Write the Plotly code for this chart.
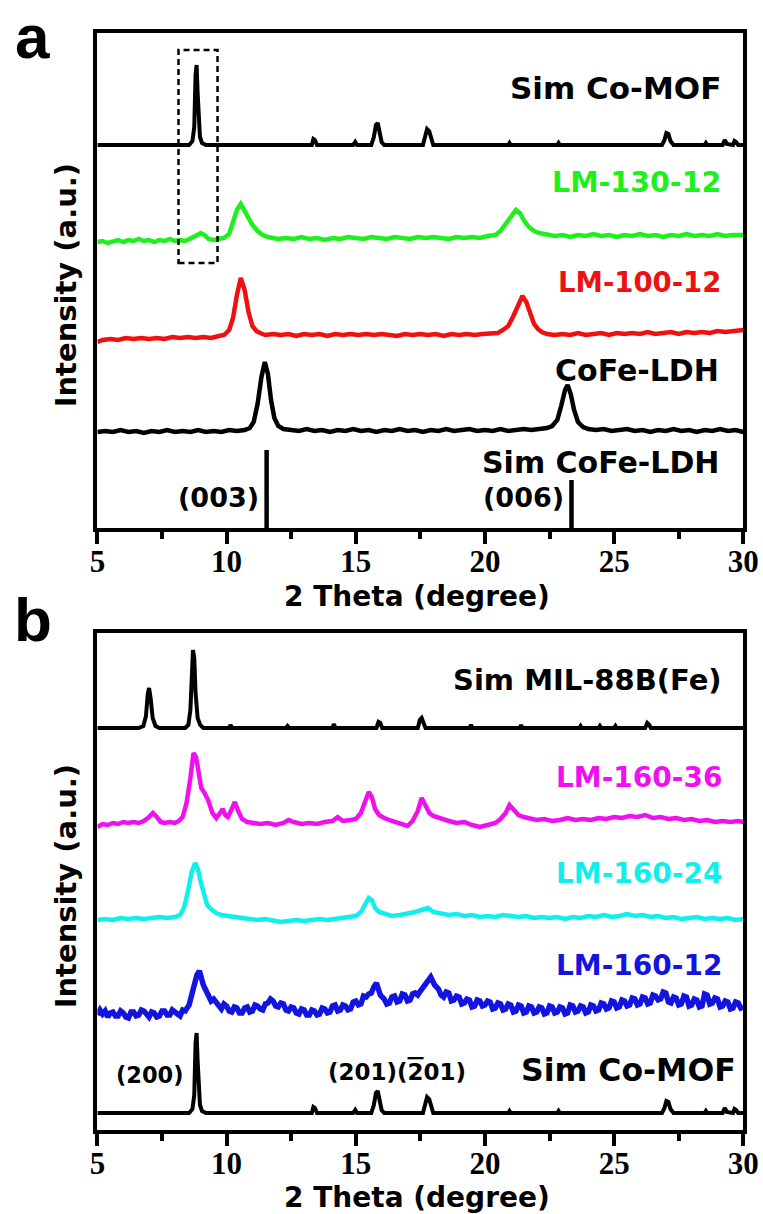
import plotly.graph_objects as go

# ---------------- data: (2-theta in degree, intensity above the pattern's baseline) ----------------

# simulated Co-MOF pattern (drawn in both panels)
sim_comof = [
    (5.0, 0), (7.0, 0), (8.55, 0), (8.68, 4), (8.75, 18), (8.8, 70), (8.84, 80), (8.88, 52),
    (8.92, 24), (8.97, 8), (9.05, 2), (9.2, 0), (13.3, 0), (13.36, 6), (13.42, 5), (13.5, 0),
    (14.9, 0), (14.98, 3), (15.05, 0), (15.6, 0), (15.7, 8), (15.78, 20), (15.85, 22),
    (15.92, 12), (16.0, 3), (16.1, 0), (17.6, 0), (17.68, 8), (17.76, 16), (17.84, 14),
    (17.92, 5), (18.0, 0), (20.9, 0), (20.95, 2), (21.0, 0), (22.8, 0), (22.85, 2), (22.9, 0),
    (26.85, 0), (26.95, 5), (27.02, 12), (27.1, 11), (27.18, 4), (27.3, 0), (28.5, 0),
    (28.55, 2), (28.6, 0), (29.2, 0), (29.28, 5), (29.36, 1), (29.6, 0), (29.66, 4),
    (29.72, 3), (29.8, 0), (30.0, 0),
]

lm_130_12 = [
    (5.0, 0), (5.2, 1), (5.4, -1), (5.6, 1), (5.8, 2), (6.0, 0), (6.2, 2), (6.4, 1), (6.6, 3),
    (6.8, 1), (7.0, 2), (7.2, 0), (7.4, 2), (7.6, 1), (7.8, 3), (8.0, 1), (8.2, 2), (8.4, 1),
    (8.6, 3), (8.8, 6), (9.0, 9), (9.15, 7), (9.3, 3), (9.5, 2), (9.7, 3), (9.9, 4), (10.1, 8),
    (10.25, 20), (10.4, 32), (10.55, 38), (10.7, 31), (10.85, 23), (11.0, 17), (11.2, 11),
    (11.4, 7), (11.6, 5), (11.8, 4), (12.0, 3), (12.3, 4), (12.6, 3), (12.9, 5), (13.2, 3),
    (13.5, 4), (13.8, 2), (14.1, 4), (14.4, 3), (14.7, 5), (15.0, 4), (15.3, 3), (15.6, 5),
    (15.9, 4), (16.2, 3), (16.5, 5), (16.8, 4), (17.1, 3), (17.4, 5), (17.7, 4), (18.0, 5),
    (18.3, 4), (18.6, 3), (18.9, 5), (19.2, 4), (19.5, 5), (19.8, 4), (20.1, 6), (20.4, 7),
    (20.6, 11), (20.8, 18), (21.0, 26), (21.2, 32), (21.35, 29), (21.5, 22), (21.7, 15),
    (21.9, 11), (22.1, 9), (22.4, 8), (22.7, 6), (23.0, 7), (23.3, 5), (23.6, 7), (23.9, 6),
    (24.2, 8), (24.5, 6), (24.8, 7), (25.1, 5), (25.4, 7), (25.7, 6), (26.0, 8), (26.3, 6),
    (26.6, 7), (26.9, 5), (27.2, 7), (27.5, 6), (27.8, 8), (28.1, 6), (28.4, 7), (28.7, 6),
    (29.0, 8), (29.3, 6), (29.6, 7), (30.0, 7),
]

lm_100_12 = [
    (5.0, -2), (5.2, 0), (5.5, 1), (5.8, 0), (6.1, 2), (6.4, 1), (6.7, 2), (7.0, 1), (7.3, 2),
    (7.6, 1), (7.9, 3), (8.2, 2), (8.5, 3), (8.8, 2), (9.1, 3), (9.4, 2), (9.7, 4), (9.9, 5),
    (10.1, 10), (10.25, 22), (10.4, 45), (10.55, 62), (10.7, 50), (10.85, 28), (11.0, 14),
    (11.15, 9), (11.3, 7), (11.5, 5), (11.8, 6), (12.1, 5), (12.4, 6), (12.7, 4), (13.0, 6),
    (13.3, 5), (13.6, 6), (13.9, 4), (14.2, 6), (14.5, 5), (14.8, 6), (15.1, 5), (15.4, 6),
    (15.7, 5), (16.0, 6), (16.3, 5), (16.6, 4), (16.9, 6), (17.2, 5), (17.5, 6), (17.8, 5),
    (18.1, 6), (18.4, 4), (18.7, 6), (19.0, 5), (19.3, 6), (19.6, 5), (19.9, 6), (20.2, 6),
    (20.5, 7), (20.7, 10), (20.9, 14), (21.1, 24), (21.3, 36), (21.45, 44), (21.6, 38),
    (21.75, 26), (21.9, 16), (22.05, 11), (22.2, 8), (22.4, 6), (22.7, 5), (23.0, 6), (23.3, 5),
    (23.6, 7), (23.9, 5), (24.2, 6), (24.5, 7), (24.8, 5), (25.1, 7), (25.4, 6), (25.7, 7),
    (26.0, 6), (26.3, 8), (26.6, 6), (26.9, 7), (27.2, 8), (27.5, 6), (27.8, 8), (28.1, 7),
    (28.4, 8), (28.7, 7), (29.0, 9), (29.3, 8), (29.6, 9), (30.0, 10),
]

cofe_ldh = [
    (5.0, 0), (5.3, 1), (5.6, 0), (5.9, 2), (6.2, 0), (6.5, 1), (6.8, -1), (7.1, 1), (7.4, 0),
    (7.7, 2), (8.0, 0), (8.3, 1), (8.6, 0), (8.9, 2), (9.2, 0), (9.5, 1), (9.8, 0), (10.1, 2),
    (10.4, 1), (10.7, 2), (10.9, 4), (11.05, 10), (11.2, 28), (11.35, 55), (11.48, 70),
    (11.6, 58), (11.72, 32), (11.85, 14), (12.0, 6), (12.2, 3), (12.5, 2), (12.8, 1), (13.1, 3),
    (13.4, 1), (13.7, 2), (14.0, 0), (14.3, 2), (14.6, 1), (14.9, 3), (15.2, 1), (15.5, 2),
    (15.8, 0), (16.1, 2), (16.4, 1), (16.7, 3), (17.0, 1), (17.3, 2), (17.6, 0), (17.9, 2),
    (18.2, 1), (18.5, 3), (18.8, 1), (19.1, 2), (19.4, 3), (19.7, 1), (20.0, 2), (20.3, 1),
    (20.6, 3), (20.9, 1), (21.2, 2), (21.5, 3), (21.8, 2), (22.1, 3), (22.4, 4), (22.6, 6),
    (22.8, 12), (22.95, 26), (23.1, 42), (23.2, 47), (23.32, 38), (23.45, 22), (23.6, 10),
    (23.8, 5), (24.0, 3), (24.3, 2), (24.6, 3), (24.9, 1), (25.2, 2), (25.5, 3), (25.8, 1),
    (26.1, 2), (26.4, 0), (26.7, 2), (27.0, 1), (27.3, 3), (27.6, 1), (27.9, 2), (28.2, 0),
    (28.5, 2), (28.8, 1), (29.1, 3), (29.4, 1), (29.7, 2), (30.0, 0),
]

# simulated CoFe-LDH reflections (003) and (006)
sim_cofe_pos = [11.55, 23.35]
sim_cofe_height = [78, 48]

sim_mil88b = [
    (5.0, 0), (6.6, 0), (6.78, 2), (6.88, 12), (6.95, 34), (7.0, 40), (7.06, 30), (7.14, 10),
    (7.25, 2), (7.4, 0), (8.4, 0), (8.52, 3), (8.6, 18), (8.66, 62), (8.7, 78), (8.75, 70),
    (8.8, 35), (8.88, 10), (8.98, 3), (9.1, 0), (10.1, 0), (10.15, 3), (10.22, 0), (12.3, 0),
    (12.36, 2), (12.42, 0), (14.1, 0), (14.15, 4), (14.22, 0), (15.8, 0), (15.88, 6), (15.95, 5),
    (16.02, 0), (17.4, 0), (17.48, 8), (17.55, 10), (17.62, 4), (17.7, 0), (19.4, 0), (19.46, 3),
    (19.52, 0), (21.35, 0), (21.4, 3), (21.45, 0), (23.65, 0), (23.7, 2), (23.75, 0), (24.4, 0),
    (24.45, 2), (24.5, 0), (25.0, 0), (25.05, 2), (25.1, 0), (26.2, 0), (26.28, 5), (26.36, 3),
    (26.42, 0), (30.0, 0),
]

lm_160_36 = [
    (5.0, -4), (5.2, -1), (5.4, -2), (5.6, 0), (5.8, -1), (6.0, 1), (6.2, 0), (6.4, 1), (6.6, 0),
    (6.8, 2), (7.0, 6), (7.15, 10), (7.3, 6), (7.45, 1), (7.6, 0), (7.8, 1), (8.0, 0), (8.15, 2),
    (8.3, 6), (8.45, 20), (8.6, 45), (8.72, 70), (8.82, 66), (8.92, 50), (9.02, 35), (9.15, 30),
    (9.3, 22), (9.45, 10), (9.6, 5), (9.75, 10), (9.85, 14), (9.95, 8), (10.05, 6), (10.2, 14),
    (10.32, 21), (10.45, 12), (10.6, 4), (10.8, 1), (11.0, 0), (11.3, -1), (11.6, 0), (11.9, -2),
    (12.2, 0), (12.4, 3), (12.6, 1), (12.9, -1), (13.2, 0), (13.5, -1), (13.8, 1), (14.1, 2),
    (14.3, 6), (14.5, 2), (14.8, 3), (15.0, 4), (15.2, 10), (15.35, 20), (15.5, 31), (15.62, 26),
    (15.75, 14), (15.9, 8), (16.1, 5), (16.4, 2), (16.7, 0), (17.0, -3), (17.2, 2), (17.4, 12),
    (17.55, 25), (17.7, 18), (17.85, 10), (18.0, 7), (18.3, 4), (18.6, 2), (18.9, 0), (19.2, 1),
    (19.5, -2), (19.8, -4), (20.1, -2), (20.4, 0), (20.6, 4), (20.8, 10), (20.95, 18), (21.1, 14),
    (21.3, 8), (21.5, 6), (21.7, 5), (22.0, 3), (22.3, 4), (22.6, 2), (22.9, 3), (23.2, 5),
    (23.5, 3), (23.8, 4), (24.1, 3), (24.4, 5), (24.7, 4), (25.0, 6), (25.3, 5), (25.6, 7),
    (25.9, 6), (26.2, 8), (26.5, 5), (26.8, 6), (27.1, 4), (27.4, 5), (27.7, 3), (28.0, 4),
    (28.3, 2), (28.6, 3), (28.9, 1), (29.2, 2), (29.5, 1), (29.8, 2), (30.0, 1),
]

lm_160_24 = [
    (5.0, 0), (5.3, 1), (5.6, 0), (5.9, 2), (6.2, 1), (6.5, 2), (6.8, 1), (7.1, 2), (7.4, 3),
    (7.7, 2), (8.0, 3), (8.2, 5), (8.35, 12), (8.5, 28), (8.65, 48), (8.78, 57), (8.9, 50),
    (9.0, 38), (9.12, 25), (9.25, 15), (9.4, 11), (9.6, 7), (9.8, 5), (10.0, 4), (10.3, 3),
    (10.6, 2), (10.9, 1), (11.2, 0), (11.5, 1), (11.8, -1), (12.1, -2), (12.4, -1), (12.7, 0),
    (13.0, -1), (13.3, 0), (13.6, 1), (13.9, 0), (14.2, 1), (14.5, 2), (14.8, 3), (15.0, 4),
    (15.2, 8), (15.35, 15), (15.5, 22), (15.62, 20), (15.75, 12), (15.9, 8), (16.1, 6), (16.4, 4),
    (16.7, 5), (17.0, 6), (17.3, 8), (17.55, 10), (17.8, 12), (18.0, 8), (18.3, 6), (18.6, 5),
    (18.9, 6), (19.2, 4), (19.5, 5), (19.8, 3), (20.1, 4), (20.4, 3), (20.7, 5), (21.0, 4),
    (21.3, 3), (21.6, 4), (21.9, 2), (22.2, 3), (22.5, 2), (22.8, 3), (23.1, 1), (23.4, 3),
    (23.7, 2), (24.0, 4), (24.3, 3), (24.6, 5), (24.9, 3), (25.2, 4), (25.5, 6), (25.8, 4),
    (26.1, 5), (26.4, 3), (26.7, 4), (27.0, 2), (27.3, 3), (27.6, 1), (27.9, 2), (28.2, 3),
    (28.5, 1), (28.8, 2), (29.1, 1), (29.4, 2), (29.7, 0), (30.0, 1),
]

lm_160_12 = [
    (5.0, 0), (5.1, 5), (5.2, 1), (5.3, 4), (5.4, -2), (5.5, 2), (5.6, 3), (5.7, -1), (5.8, -1),
    (5.9, 4), (6.0, 2), (6.1, -2), (6.2, -3), (6.3, 3), (6.4, 3), (6.5, -1), (6.6, 0), (6.7, 5),
    (6.8, 4), (6.9, 0), (7.0, -2), (7.1, 3), (7.2, 2), (7.3, -2), (7.4, -1), (7.5, 4), (7.6, 4),
    (7.7, 0), (7.8, 0), (7.9, 5), (8.0, 3), (8.1, 0), (8.2, -1), (8.3, 5), (8.4, 4), (8.55, 10),
    (8.7, 24), (8.85, 40), (8.95, 44), (9.1, 30), (9.25, 22), (9.4, 14), (9.5, 16), (9.6, 12),
    (9.7, 9), (9.8, 6), (9.9, 11), (10.0, 9), (10.1, 4), (10.2, 3), (10.3, 8), (10.4, 7),
    (10.5, 2), (10.6, 2), (10.7, 7), (10.8, 8), (10.9, 3), (11.0, 4), (11.1, 10), (11.2, 9),
    (11.3, 6), (11.4, 5), (11.5, 11), (11.6, 12), (11.7, 16), (11.8, 14), (11.9, 9), (12.0, 8),
    (12.1, 12), (12.2, 11), (12.3, 5), (12.4, 4), (12.5, 8), (12.6, 7), (12.7, 2), (12.8, 1),
    (12.9, 6), (13.0, 5), (13.1, 0), (13.2, 0), (13.3, 5), (13.4, 4), (13.5, 0), (13.6, 1),
    (13.7, 7), (13.8, 6), (13.9, 2), (14.0, 3), (14.1, 9), (14.2, 10), (14.3, 4), (14.4, 5),
    (14.5, 10), (14.6, 9), (14.7, 5), (14.8, 6), (14.9, 13), (15.0, 14), (15.1, 10), (15.2, 11),
    (15.3, 19), (15.4, 18), (15.5, 21), (15.6, 22), (15.7, 28), (15.8, 32), (15.9, 24),
    (15.95, 20), (16.1, 16), (16.2, 11), (16.3, 12), (16.4, 18), (16.5, 19), (16.6, 13),
    (16.7, 14), (16.8, 21), (16.9, 20), (17.0, 14), (17.1, 15), (17.2, 21), (17.3, 22),
    (17.4, 20), (17.5, 24), (17.6, 27), (17.7, 30), (17.8, 35), (17.9, 38), (18.05, 30),
    (18.2, 26), (18.3, 20), (18.4, 18), (18.5, 23), (18.6, 22), (18.7, 14), (18.8, 15),
    (18.9, 19), (19.0, 18), (19.1, 11), (19.2, 12), (19.3, 16), (19.4, 15), (19.5, 8), (19.6, 9),
    (19.7, 15), (19.8, 14), (19.9, 9), (20.0, 10), (20.1, 14), (20.2, 13), (20.3, 6), (20.4, 7),
    (20.5, 12), (20.6, 11), (20.7, 5), (20.8, 6), (20.9, 11), (21.0, 10), (21.1, 3), (21.2, 4),
    (21.3, 10), (21.4, 9), (21.5, 2), (21.6, 3), (21.7, 9), (21.8, 8), (21.9, 2), (22.0, 3),
    (22.1, 8), (22.2, 7), (22.3, 1), (22.4, 2), (22.5, 9), (22.6, 8), (22.7, 2), (22.8, 3),
    (22.9, 8), (23.0, 7), (23.1, 1), (23.2, 2), (23.3, 10), (23.4, 9), (23.5, 3), (23.6, 4),
    (23.7, 9), (23.8, 8), (23.9, 2), (24.0, 3), (24.1, 10), (24.2, 9), (24.3, 4), (24.4, 5),
    (24.5, 12), (24.6, 11), (24.7, 6), (24.8, 7), (24.9, 14), (25.0, 13), (25.1, 7), (25.2, 8),
    (25.3, 15), (25.4, 14), (25.5, 9), (25.6, 10), (25.7, 17), (25.8, 16), (25.9, 10),
    (26.0, 11), (26.1, 18), (26.2, 17), (26.3, 11), (26.4, 12), (26.5, 20), (26.6, 19),
    (26.7, 15), (26.8, 16), (26.9, 23), (27.0, 22), (27.1, 13), (27.2, 12), (27.3, 18),
    (27.4, 17), (27.5, 10), (27.6, 11), (27.7, 19), (27.8, 18), (27.9, 9), (28.0, 10),
    (28.1, 16), (28.2, 15), (28.3, 8), (28.4, 9), (28.5, 21), (28.6, 20), (28.7, 11), (28.8, 12),
    (28.9, 17), (29.0, 16), (29.1, 8), (29.2, 9), (29.3, 14), (29.4, 13), (29.5, 6), (29.6, 7),
    (29.7, 13), (29.8, 12), (29.9, 7), (30.0, 8),
]

x_ticks = [5, 10, 15, 20, 25, 30]

# ---------------- figure geometry ----------------
FIG_W, FIG_H = 778, 1214
X_SCALE, X_PAD = 0.969, 8  # horizontal layout factor and page margin


def fx(px):
    """horizontal position (px) -> paper fraction"""
    return (px / X_SCALE - X_PAD) / FIG_W


def fy(py):
    """vertical position (px from top) -> paper fraction"""
    return 1 - py / FIG_H


BLACK, GREEN, RED = "#000000", "#1ef01e", "#ee1111"
MAGENTA, CYAN, BLUE = "#ee11ee", "#11eeee", "#1414e0"
LABEL_FONT = "DejaVu Sans"

fig = go.Figure()


def add_pattern(points, offset, color, width, xa, ya):
    fig.add_trace(go.Scatter(
        x=[p[0] for p in points],
        y=[p[1] + offset for p in points],
        mode="lines", line=dict(color=color, width=width),
        xaxis=xa, yaxis=ya, showlegend=False, hoverinfo="skip",
    ))


# panel (a): stacked patterns
add_pattern(sim_comof, 383, BLACK, 4, "x", "y")
add_pattern(lm_130_12, 286, GREEN, 4.5, "x", "y")
add_pattern(lm_100_12, 188, RED, 4.5, "x", "y")
add_pattern(cofe_ldh, 96, BLACK, 4.5, "x", "y")

stick_x, stick_y = [], []
for pos, h in zip(sim_cofe_pos, sim_cofe_height):
    stick_x += [pos, pos, None]
    stick_y += [0, h, None]
fig.add_trace(go.Scatter(x=stick_x, y=stick_y, mode="lines",
                         line=dict(color=BLACK, width=4.5),
                         xaxis="x", yaxis="y", showlegend=False, hoverinfo="skip"))

# panel (b): stacked patterns
add_pattern(sim_mil88b, 402, BLACK, 4, "x2", "y2")
add_pattern(lm_160_36, 307, MAGENTA, 4.5, "x2", "y2")
add_pattern(lm_160_24, 210, CYAN, 4.5, "x2", "y2")
add_pattern(lm_160_12, 115, BLUE, 5.5, "x2", "y2")
add_pattern(sim_comof, 17, BLACK, 4, "x2", "y2")

xaxis_style = dict(
    range=[5, 30], tickvals=x_ticks, ticks="outside", ticklen=12, tickwidth=4,
    tickcolor=BLACK, showline=True, linewidth=4, linecolor=BLACK, mirror=True,
    showgrid=False, zeroline=False, ticklabelstandoff=-9,
    tickfont=dict(family="Liberation Serif", size=31, color=BLACK, weight="bold"),
    minor=dict(dtick=2.5, tick0=5, ticks="outside", ticklen=7, tickwidth=4,
               tickcolor=BLACK, showgrid=False),
    domain=[fx(97), fx(742)],
)
yaxis_style = dict(
    showline=True, linewidth=4, linecolor=BLACK, mirror=True, ticks="",
    showticklabels=False, showgrid=False, zeroline=False,
)

fig.update_layout(
    width=FIG_W, height=FIG_H, margin=dict(l=0, r=0, t=0, b=0),
    paper_bgcolor="white", plot_bgcolor="white", showlegend=False,
    xaxis=dict(xaxis_style, anchor="y"),
    yaxis=dict(yaxis_style, range=[0, 495], domain=[fy(528), fy(33)], anchor="x"),
    xaxis2=dict(xaxis_style, anchor="y2"),
    yaxis2=dict(yaxis_style, range=[0, 497], domain=[fy(1130), fy(633)], anchor="x2"),
)

# dashed box around the Co-MOF (200) region
fig.add_shape(type="rect", xref="x", yref="y", x0=8.14, x1=9.65, y0=265, y1=478,
              line=dict(color=BLACK, width=2.5, dash="6px,4px"))

annotations = []


def label(text, x, y, color, size, xa, ya, anchor="right"):
    annotations.append(dict(
        text=f"<b>{text}</b>", x=x, y=y, xref=xa, yref=ya, xanchor=anchor,
        yanchor="middle", showarrow=False,
        font=dict(family=LABEL_FONT, size=size, color=color),
    ))


# panel (a) sample labels
label("Sim Co-MOF", 29.22, 440, BLACK, 31, "x", "y")
label("LM-130-12", 29.22, 345, GREEN, 28.5, "x", "y")
label("LM-100-12", 29.22, 246, RED, 27.5, "x", "y")
label("CoFe-LDH", 29.15, 158, BLACK, 30, "x", "y")
label("Sim CoFe-LDH", 29.15, 66, BLACK, 30, "x", "y")
label("(003)", 9.69, 31, BLACK, 27, "x", "y", "center")
label("(006)", 21.51, 31, BLACK, 27, "x", "y", "center")

# panel (b) sample labels
label("Sim MIL-88B(Fe)", 29.26, 450, BLACK, 29, "x2", "y2")
label("LM-160-36", 29.26, 353, MAGENTA, 28, "x2", "y2")
label("LM-160-24", 29.26, 257, CYAN, 28, "x2", "y2")
label("LM-160-12", 29.26, 165, BLUE, 28, "x2", "y2")
label("Sim Co-MOF", 29.8, 60, BLACK, 31.5, "x2", "y2")
label("(200)", 7.05, 55, BLACK, 22.5, "x2", "y2", "center")
label("(201)(<span style='text-decoration:overline'>2</span>01)", 16.59, 58, BLACK, 23,
      "x2", "y2", "center")

# axis titles
for yc in (285, 886):
    annotations.append(dict(
        text="<b>Intensity (a.u.)</b>", x=fx(66), y=fy(yc), xref="paper", yref="paper",
        xanchor="center", yanchor="middle", textangle=-90, showarrow=False,
        font=dict(family=LABEL_FONT, size=29, color=BLACK),
    ))
for yc in (597, 1197):
    annotations.append(dict(
        text="<b>2 Theta (degree)</b>", x=fx(416), y=fy(yc), xref="paper", yref="paper",
        xanchor="center", yanchor="middle", showarrow=False,
        font=dict(family=LABEL_FONT, size=28, color=BLACK),
    ))

# panel letters
for txt, yc in (("a", 36), ("b", 619)):
    annotations.append(dict(
        text=f"<b>{txt}</b>", x=fx(32.5), y=fy(yc), xref="paper", yref="paper",
        xanchor="center", yanchor="middle", showarrow=False,
        font=dict(family="Liberation Sans", size=62, color=BLACK),
    ))

fig.update_layout(annotations=annotations)

fig.write_html("out.html")
